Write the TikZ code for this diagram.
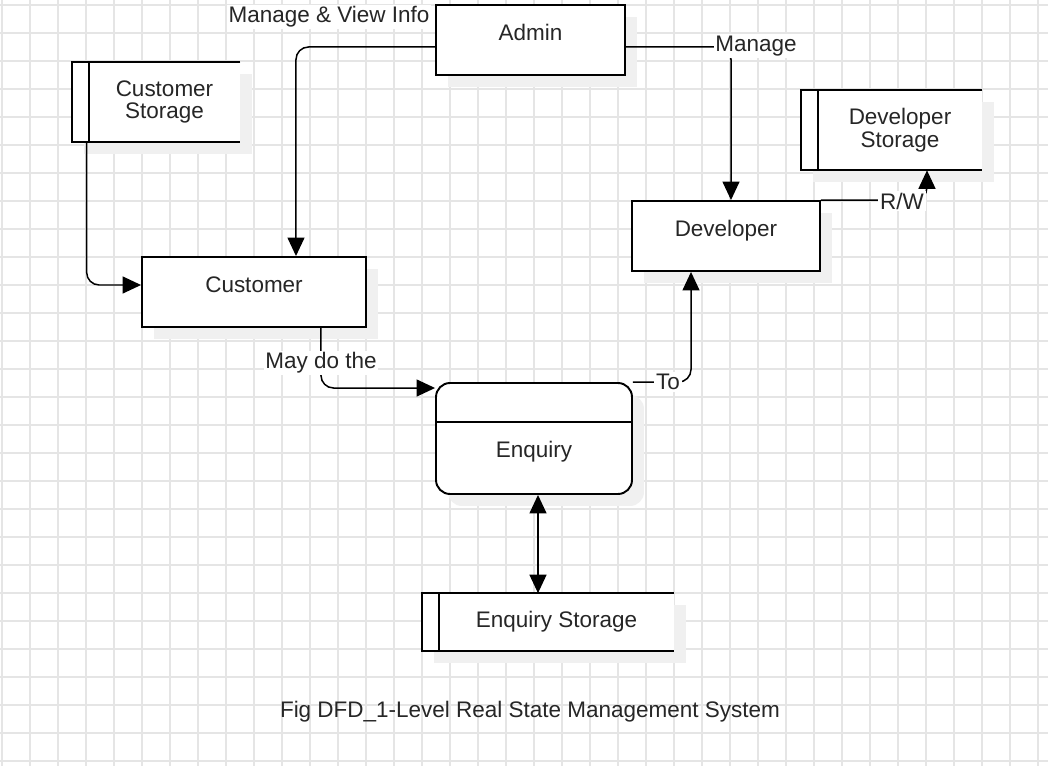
\documentclass[tikz,border=0pt]{standalone}
\usepackage{fontspec}
\setmainfont{Liberation Sans}
\usetikzlibrary{arrows.meta, shadows}
\pgfdeclarelayer{back}
\pgfsetlayers{back,main}
\definecolor{gridgray}{RGB}{229,229,229}
\definecolor{shadowgray}{RGB}{240,240,240}
\definecolor{inkgray}{RGB}{38,38,38}
\tikzset{
	gridline/.style={draw=gridgray, line width=0.04cm},
	process/.style={draw, fill=white, line width=1.1pt, text height=0.32cm, text depth=0.29cm,
		drop shadow={shadow xshift=0.24cm, shadow yshift=-0.24cm, fill=shadowgray, opacity=1}},
	store/.style={align=center, inner sep=0pt},
	storeline/.style={line width=1.1pt, line join=miter},
	flow/.style={->, line width=0.85pt, rounded corners=0.25cm},
	lbl/.style={fill=white, inner sep=1pt}
}

\begin{document}
\begin{tikzpicture}[x=0.02cm, y=-0.02cm, font=\fontsize{12.8}{13}\selectfont, text=inkgray, >={Triangle[length=0.37cm, width=0.34cm]}]
	\useasboundingbox (0,0) rectangle (1048,766);
	
	% grid
	\begin{pgfonlayer}{back}
		\fill[white] (0,0) rectangle (1048,766);
		\foreach \i in {0,...,37} \draw[gridline] ({2+28*\i},0) -- ({2+28*\i},766);
		\foreach \j in {0,...,27} \draw[gridline] (0,{5+28*\j}) -- (1048,{5+28*\j});
	\end{pgfonlayer}
	
	% processes
	\node[process, minimum width=3.78cm, minimum height=1.4cm] (admin) at (530.5, 40) {Admin};
	\node[process, minimum width=4.48cm, minimum height=1.4cm] (customer) at (254, 292) {Customer};
	\node[process, minimum width=3.76cm, minimum height=1.4cm] (developer) at (726, 236) {Developer};
	\node[process, rounded corners=0.28cm, minimum width=3.92cm, minimum height=2.22cm, text height=0.76cm, text depth=0cm] (enquiry) at (534, 438.5) {Enquiry};
	\draw[line width=1.1pt] ([yshift=-0.8cm]enquiry.north west) -- ([yshift=-0.8cm]enquiry.north east);
	
	% data stores
	\node[store, minimum width=3.02cm, minimum height=1.6cm] (cstore) at (164.5, 102) {Customer\\Storage};
	\node[store, minimum width=3.28cm, minimum height=1.6cm] (dstore) at (900, 130) {Developer\\Storage};
	\node[store, minimum width=4.7cm, minimum height=1.14cm] (estore) at (556.5, 622) {Enquiry Storage};
	\begin{pgfonlayer}{back}
		\foreach \s in {cstore, dstore, estore} {
			\fill[shadowgray] ([shift={(-5,12)}]\s.north west) rectangle ([shift={(12,12)}]\s.south east);
			\draw[storeline, fill=white] (\s.north east) -- ([xshift=-0.34cm]\s.north west) |- (\s.south east);
			\draw[storeline] (\s.north west) -- (\s.south west);
		}
	\end{pgfonlayer}
	
	% flows
	\draw[flow] ([yshift=-0.14cm]admin.west) -| ([xshift=0.84cm]customer.north);
	\draw[flow] ([yshift=-0.14cm]admin.east) -| ([xshift=0.1cm]developer.north);
	\draw[flow] ([xshift=-0.04cm]cstore.south west) |- ([yshift=0.14cm]customer.west);
	\draw[flow] ([xshift=1.34cm]customer.south) |- ([yshift=1.01cm]enquiry.west);
	\draw[flow] (enquiry.north east) -| ([xshift=-0.7cm]developer.south);
	\draw[flow] (developer.north east) -| ([xshift=0.54cm]dstore.south);
	\draw[flow, <->] ([xshift=0.08cm]enquiry.south) -- ([xshift=0.08cm]enquiry.south |- estore.north);
	
	\node[lbl] (mvinfo) at (329, 17) {Manage \& View Info};
	\node[lbl] (manage) at (756, 46) {Manage};
	\node[lbl] (rw) at (902, 201) {R/W};
	\node[lbl] (to) at (668, 382) {To};
	\node[lbl] (maydo) at (321, 363) {May do the};
	
	\node (caption) at (530, 711.5) {Fig DFD\_1-Level Real State Management System};
\end{tikzpicture}
\end{document}
